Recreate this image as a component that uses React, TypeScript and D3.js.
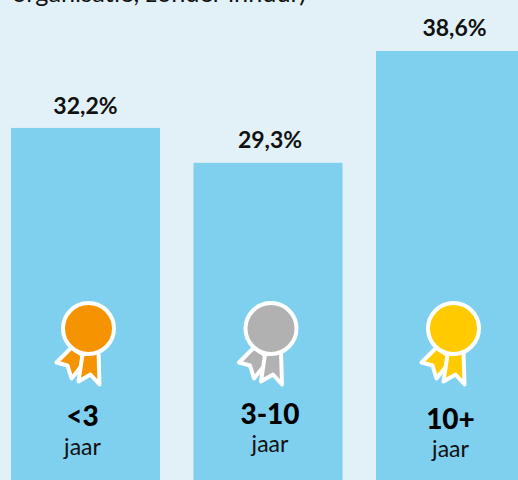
import React from 'react';
import * as d3 from 'd3';

const categories = ['<3', '3-10', '10+'];
const values = [32.2, 29.3, 38.6];
const valueLabels = ['32,2%', '29,3%', '38,6%'];
const unit = 'jaar';
const medalColors = ['#f59300', '#b1b1b1', '#ffcb00'];
const titleTail = 'organisatie, zonder inhuur)';

const width = 518;
const height = 480;

// small nudges, the labels in the original are not quite centered or aligned
const valueDx = [0, 2, 4];
const valueDy = [-14, -15, -15];
const catDx = [-3, 2, 0];
const catY = [426, 424, 429];
const jaarY = [455, 452, 457];
const medalDx = [3, 3, 3];

const x = d3.scaleBand<string>()
  .domain(categories)
  .range([11, 525])
  .paddingInner(0.1836);

const y = d3.scaleLinear()
  .domain([0, 38.6])
  .range([515, 51]);

const ribbon = d3.line();
const leftRibbon: [number, number][] = [[-17, 19], [-32, 34], [-21, 37], [-17, 50], [-1, 30]];
const rightRibbon: [number, number][] = [[-6, 26], [-10, 53], [2, 46], [11, 56], [10, 23]];

const fontFamily = 'Lato, "Open Sans", sans-serif';

function Medal({ cx, cy, color }: { cx: number; cy: number; color: string }) {
  return (
    <g transform={`translate(${cx},${cy})`} stroke="#fff" strokeWidth={4} strokeLinejoin="round" fill={color}>
      <path d={ribbon(leftRibbon) + 'Z'} />
      <path d={ribbon(rightRibbon) + 'Z'} />
      <circle r={25.5} />
    </g>
  );
}

export default function App() {
  return (
    <svg
      width={width}
      height={height}
      style={{ position: 'absolute', left: 0, top: 0, background: '#e2f1f8' }}
    >
      <text x={12} y={2} fontFamily={fontFamily} fontSize={25.3} fill="#111">{titleTail}</text>
      {categories.map((c, i) => {
        const bx = x(c)!;
        const cx = bx + x.bandwidth() / 2;
        return (
          <g key={c}>
            <rect x={bx} y={y(values[i])} width={x.bandwidth()} height={y(0) - y(values[i])} fill="#7fcfee" />
            <text
              x={cx + valueDx[i]}
              y={y(values[i]) + valueDy[i]}
              textAnchor="middle"
              fontFamily={fontFamily}
              fontWeight={700}
              fontSize={23}
              fill="#111"
            >
              {valueLabels[i]}
            </text>
            <Medal cx={cx + medalDx[i]} cy={328.5} color={medalColors[i]} />
            <text
              x={cx + catDx[i]}
              y={catY[i]}
              textAnchor="middle"
              fontFamily={fontFamily}
              fontWeight={900}
              fontSize={28}
              fill="#000"
            >
              {c}
            </text>
            <text
              x={cx + catDx[i]}
              y={jaarY[i]}
              textAnchor="middle"
              fontFamily={fontFamily}
              fontSize={23}
              fill="#111"
            >
              {unit}
            </text>
          </g>
        );
      })}
    </svg>
  );
}
